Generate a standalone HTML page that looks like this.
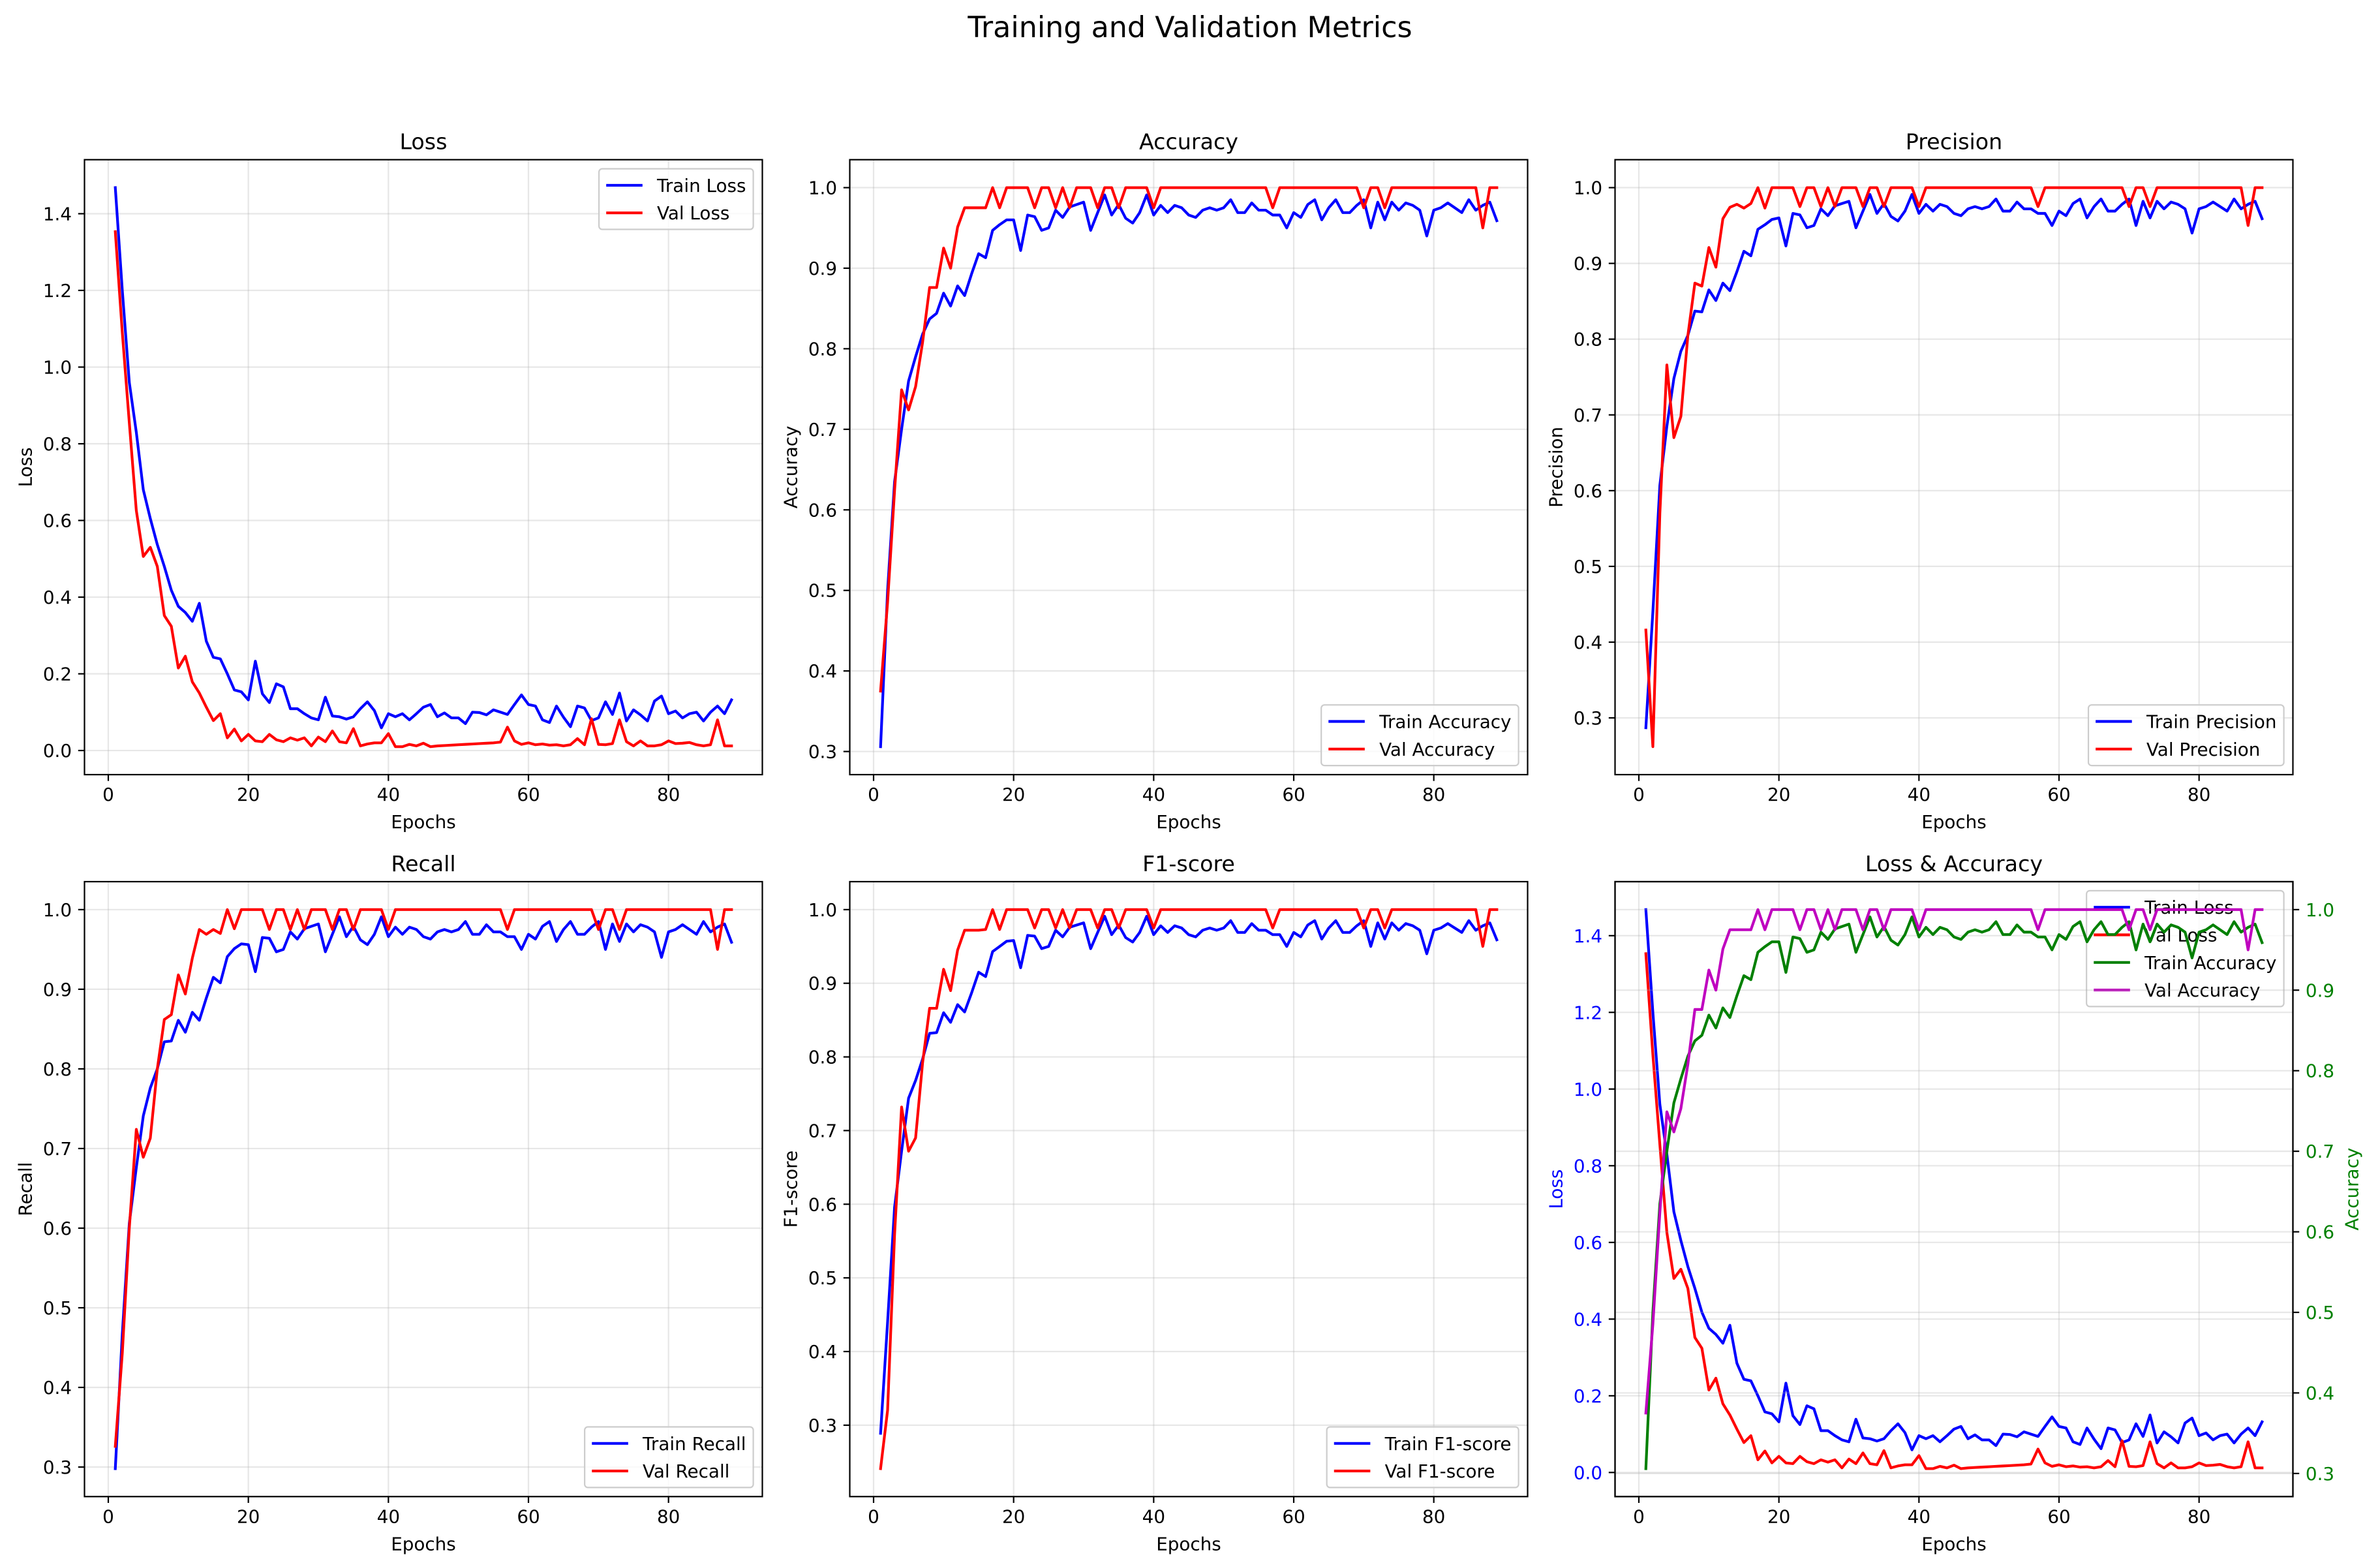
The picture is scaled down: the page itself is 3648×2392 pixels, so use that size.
<!DOCTYPE html>
<html><head><meta charset="utf-8"><style>
html,body{margin:0;padding:0;background:#fff;}
svg{display:block;font-family:"DejaVu Sans","Liberation Sans",sans-serif;}
</style></head><body>
<svg id="fig" xmlns="http://www.w3.org/2000/svg" width="3648" height="2392" viewBox="0 0 3648 2392">
<rect x="0" y="0" width="3648" height="2392" fill="#fff"/>
<text x="1824" y="57" font-size="44.4" text-anchor="middle">Training and Validation Metrics</text>
</svg>
<script>
const epochs = Array.from({length: 89}, (_, i) => i + 1);
const xTicks = [0, 20, 40, 60, 80];
const lossTicks = [0.0, 0.2, 0.4, 0.6, 0.8, 1.0, 1.2, 1.4];
const lossTickLabels = ["0.0","0.2","0.4","0.6","0.8","1.0","1.2","1.4"];
const metricTicks = [0.3, 0.4, 0.5, 0.6, 0.7, 0.8, 0.9, 1.0];
const metricTickLabels = ["0.3","0.4","0.5","0.6","0.7","0.8","0.9","1.0"];

const trainLoss = [1.468,1.20,.96,.83,.68,.605,.537,.48,.418,.376,.36,.337,.384,.285,.243,.239,.20,.158,.153,.132,.233,.148,.125,.174,.166,.109,.109,.096,.085,.08,.139,.09,.088,.082,.088,.109,.127,.104,.059,.096,.088,.096,.08,.096,.113,.12,.088,.098,.085,.085,.07,.10,.099,.093,.106,.10,.094,.12,.145,.12,.116,.08,.073,.116,.087,.062,.116,.111,.078,.085,.127,.094,.15,.077,.106,.093,.077,.129,.142,.096,.103,.085,.096,.10,.077,.10,.116,.096,.132];
const valLoss = [1.353,1.09,.855,.626,.506,.53,.48,.352,.324,.215,.246,.179,.15,.113,.078,.096,.033,.056,.025,.042,.025,.023,.042,.028,.023,.033,.027,.033,.012,.035,.023,.051,.023,.02,.057,.012,.017,.02,.02,.044,.01,.01,.016,.012,.019,.01,.012,.013,.014,.015,.016,.017,.018,.019,.02,.022,.061,.025,.016,.02,.015,.017,.014,.015,.012,.015,.031,.015,.083,.016,.015,.018,.08,.023,.012,.025,.012,.012,.015,.025,.018,.019,.021,.015,.012,.015,.08,.012,.012];

const trainAcc = [.306,.50,.635,.70,.76,.79,.818,.837,.844,.869,.853,.878,.866,.893,.918,.913,.947,.954,.96,.96,.922,.966,.964,.947,.95,.972,.963,.976,.979,.982,.947,.969,.991,.966,.979,.962,.956,.969,.991,.966,.978,.969,.978,.975,.966,.963,.972,.975,.972,.975,.985,.969,.969,.981,.972,.972,.966,.966,.95,.969,.963,.979,.985,.96,.975,.985,.969,.969,.978,.985,.95,.982,.96,.982,.972,.981,.978,.972,.94,.972,.975,.981,.975,.969,.985,.972,.978,.982,.959];
const valAcc = [.375,.485,.624,.749,.724,.753,.808,.876,.876,.925,.90,.951,.975,.975,.975,.975,1,.975,1,1,1,1,.975,1,1,.975,1,.975,1,1,1,.975,1,1,.975,1,1,1,1,.975,1,1,1,1,1,1,1,1,1,1,1,1,1,1,1,1,.975,1,1,1,1,1,1,1,1,1,1,1,1,.975,1,1,.975,1,1,1,1,1,1,1,1,1,1,1,1,1,.95,1,1];

const trainPrec = [.287,.44,.607,.685,.748,.784,.805,.837,.836,.865,.851,.874,.864,.889,.916,.91,.945,.951,.958,.96,.923,.966,.964,.947,.95,.972,.963,.976,.979,.982,.947,.969,.991,.966,.979,.962,.956,.969,.991,.966,.978,.969,.978,.975,.966,.963,.972,.975,.972,.975,.985,.969,.969,.981,.972,.972,.966,.966,.95,.969,.963,.979,.985,.96,.975,.985,.969,.969,.978,.985,.95,.982,.96,.982,.972,.981,.978,.972,.94,.972,.975,.981,.975,.969,.985,.972,.978,.982,.959];
const valPrec = [.416,.262,.57,.766,.67,.698,.805,.874,.87,.921,.895,.959,.974,.978,.973,.979,1,.973,1,1,1,1,.975,1,1,.975,1,.975,1,1,1,.975,1,1,.975,1,1,1,1,.975,1,1,1,1,1,1,1,1,1,1,1,1,1,1,1,1,.975,1,1,1,1,1,1,1,1,1,1,1,1,.975,1,1,.975,1,1,1,1,1,1,1,1,1,1,1,1,1,.95,1,1];

const trainRec = [.298,.467,.606,.676,.741,.776,.80,.834,.835,.861,.846,.871,.861,.889,.915,.908,.941,.951,.957,.956,.922,.965,.964,.947,.95,.972,.963,.976,.979,.982,.947,.969,.991,.966,.979,.962,.956,.969,.991,.966,.978,.969,.978,.975,.966,.963,.972,.975,.972,.975,.985,.969,.969,.981,.972,.972,.966,.966,.95,.969,.963,.979,.985,.96,.975,.985,.969,.969,.978,.985,.95,.982,.96,.982,.972,.981,.978,.972,.94,.972,.975,.981,.975,.969,.985,.972,.978,.982,.959];
const valRec = [.326,.443,.60,.724,.689,.713,.80,.862,.868,.918,.894,.939,.975,.969,.975,.97,1,.976,1,1,1,1,.975,1,1,.975,1,.975,1,1,1,.975,1,1,.975,1,1,1,1,.975,1,1,1,1,1,1,1,1,1,1,1,1,1,1,1,1,.975,1,1,1,1,1,1,1,1,1,1,1,1,.975,1,1,.975,1,1,1,1,1,1,1,1,1,1,1,1,1,.95,1,1];

const trainF1 = [.289,.44,.596,.672,.744,.768,.797,.832,.833,.86,.847,.871,.861,.887,.915,.909,.943,.95,.957,.958,.921,.965,.964,.947,.95,.972,.963,.976,.979,.982,.947,.969,.991,.966,.979,.962,.956,.969,.991,.966,.978,.969,.978,.975,.966,.963,.972,.975,.972,.975,.985,.969,.969,.981,.972,.972,.966,.966,.95,.969,.963,.979,.985,.96,.975,.985,.969,.969,.978,.985,.95,.982,.96,.982,.972,.981,.978,.972,.94,.972,.975,.981,.975,.969,.985,.972,.978,.982,.959];
const valF1 = [.241,.32,.559,.732,.672,.69,.792,.866,.866,.919,.89,.945,.972,.972,.972,.973,1,.973,1,1,1,1,.975,1,1,.975,1,.975,1,1,1,.975,1,1,.975,1,1,1,1,.975,1,1,1,1,1,1,1,1,1,1,1,1,1,1,1,1,.975,1,1,1,1,1,1,1,1,1,1,1,1,.975,1,1,.975,1,1,1,1,1,1,1,1,1,1,1,1,1,.95,1,1];

const NS = "http://www.w3.org/2000/svg";
const svg = document.getElementById("fig");
const W = 1039, H = 942.3, FS = 27.8;
const colL = [129.5, 1302.5, 2475.5];
const rowT = [244.7, 1351];
const TICK = 9.7, PAD = 9.7, LW = 4.17, SPINE = 2.2;

function mk(tag, attrs, parent) {
  const e = document.createElementNS(NS, tag);
  for (const k in attrs) e.setAttribute(k, attrs[k]);
  (parent || svg).appendChild(e);
  return e;
}
function xScale(L) {
  const lo = Math.min(...epochs), hi = Math.max(...epochs);
  const m = (hi - lo) * 0.05, a = lo - m, b = hi + m;
  return v => L + (v - a) / (b - a) * W;
}
function yScale(T, seriesList) {
  let lo = Infinity, hi = -Infinity;
  seriesList.forEach(s => s.forEach(v => { lo = Math.min(lo, v); hi = Math.max(hi, v); }));
  const m = (hi - lo) * 0.05, a = lo - m, b = hi + m;
  return v => T + H - (v - a) / (b - a) * H;
}
function gridX(g, xs, T) {
  xTicks.forEach(t => {
    const l = mk("line", {x1: xs(t), x2: xs(t), y1: T, y2: T + H, stroke: "#b0b0b0", "stroke-opacity": 0.3, "stroke-width": SPINE}, g);
    
    
  });
}
function gridY(g, ys, L, ticks) {
  ticks.forEach(t => {
    const l = mk("line", {x1: L, x2: L + W, y1: ys(t), y2: ys(t), stroke: "#b0b0b0", "stroke-opacity": 0.3, "stroke-width": SPINE}, g);
    
    
  });
}
function series(g, xs, ys, vals, color, name) {
  const d = vals.map((v, i) => (i ? "L" : "M") + xs(epochs[i]).toFixed(2) + "," + ys(v).toFixed(2)).join("");
  const p = mk("path", {d: d, fill: "none", stroke: color, "stroke-width": LW, "stroke-linejoin": "round", "stroke-linecap": "square"}, g);
  
  
}
function xAxis(g, xs, L, T) {
  xTicks.forEach(t => {
    mk("line", {x1: xs(t), x2: xs(t), y1: T + H, y2: T + H + TICK, stroke: "#000", "stroke-width": SPINE}, g);
    const tx = mk("text", {x: xs(t), y: T + H + 40, "font-size": FS, "text-anchor": "middle"}, g);
    tx.textContent = t;
    
    
  });
  const lab = mk("text", {x: L + W / 2, y: T + H + 82, "font-size": FS, "text-anchor": "middle"}, g);
  lab.textContent = "Epochs";
  
  
}
let curT = 0;
function rowCenter() { return curT + H / 2; }
function yAxisLeft(g, ys, L, ticks, labels, title, color) {
  ticks.forEach((t, i) => {
    mk("line", {x1: L - TICK, x2: L, y1: ys(t), y2: ys(t), stroke: "#000", "stroke-width": SPINE}, g);
    const tx = mk("text", {x: L - TICK - PAD, y: ys(t) + 10, "font-size": FS, "text-anchor": "end", fill: color}, g);
    tx.textContent = labels[i];
    
    
  });
  const lab = mk("text", {x: 0, y: 0, "font-size": FS, "text-anchor": "middle", fill: color, transform: `translate(${L - 81},${rowCenter()}) rotate(-90)`}, g);
  lab.textContent = title;
  
  
}
function yAxisRight(g, ys, R, ticks, labels, title, color) {
  ticks.forEach((t, i) => {
    mk("line", {x1: R, x2: R + TICK, y1: ys(t), y2: ys(t), stroke: "#000", "stroke-width": SPINE}, g);
    const tx = mk("text", {x: R + TICK + PAD, y: ys(t) + 10, "font-size": FS, "text-anchor": "start", fill: color}, g);
    tx.textContent = labels[i];
    
    
  });
  const lab = mk("text", {x: 0, y: 0, "font-size": FS, "text-anchor": "middle", fill: color, transform: `translate(${R + 100},${rowCenter()}) rotate(-90)`}, g);
  lab.textContent = title;
  
  
}
function frame(g, L, T, title) {
  const r = mk("rect", {x: L, y: T, width: W, height: H, fill: "none", stroke: "#000", "stroke-width": SPINE}, g);
  
  
  if (title) {
    const t = mk("text", {x: L + W / 2, y: T - 16, "font-size": 33.3, "text-anchor": "middle"}, g);
    t.textContent = title;
    
    
  }
}
function legend(g, L, T, entries, where) {
  const lg = mk("g", {}, g);
  
  
  const rowH = 28.4, sp = 13.9, bp = 11.1;
  const hgt = 2 * bp + entries.length * rowH + (entries.length - 1) * sp;
  const box = mk("rect", {rx: 5, ry: 5, fill: "#fff", "fill-opacity": 0.8, stroke: "#cccccc", "stroke-width": SPINE}, lg);
  const texts = [];
  entries.forEach((e, i) => {
    const h = mk("line", {stroke: e[1], "stroke-width": LW}, lg);
    
    
    const t = mk("text", {"font-size": FS}, lg);
    t.textContent = e[0];
    
    
    texts.push([h, t]);
  });
  let maxw = 0;
  texts.forEach(p => { maxw = Math.max(maxw, p[1].getComputedTextLength()); });
  const wid = bp + 55.6 + 22.2 + maxw + bp;
  const bx = L + W - 13.9 - wid;
  const by = where === "upper" ? T + 13.9 : T + H - 13.9 - hgt;
  box.setAttribute("x", bx); box.setAttribute("y", by);
  box.setAttribute("width", wid); box.setAttribute("height", hgt);
  texts.forEach((p, i) => {
    const cy = by + bp + i * (rowH + sp) + rowH / 2;
    p[0].setAttribute("x1", bx + bp); p[0].setAttribute("x2", bx + bp + 55.6);
    p[0].setAttribute("y1", cy); p[0].setAttribute("y2", cy);
    p[1].setAttribute("x", bx + bp + 55.6 + 22.2); p[1].setAttribute("y", cy + 10);
  });
}
function simplePanel(name, L, T, title, tr, va, trName, vaName, ticks, labels, ylab, where) {
  curT = T;
  const g = mk("g", {});
  
  
  const xs = xScale(L), ys = yScale(T, [tr, va]);
  gridX(g, xs, T); gridY(g, ys, L, ticks);
  series(g, xs, ys, tr, "#0000ff", "train-line");
  series(g, xs, ys, va, "#ff0000", "val-line");
  frame(g, L, T, title);
  xAxis(g, xs, L, T);
  yAxisLeft(g, ys, L, ticks, labels, ylab, "#000");
  legend(g, L, T, [[trName, "#0000ff"], [vaName, "#ff0000"]], where);
}
simplePanel("loss-panel", colL[0], rowT[0], "Loss", trainLoss, valLoss, "Train Loss", "Val Loss", lossTicks, lossTickLabels, "Loss", "upper");
simplePanel("accuracy-panel", colL[1], rowT[0], "Accuracy", trainAcc, valAcc, "Train Accuracy", "Val Accuracy", metricTicks, metricTickLabels, "Accuracy", "lower");
simplePanel("precision-panel", colL[2], rowT[0], "Precision", trainPrec, valPrec, "Train Precision", "Val Precision", metricTicks, metricTickLabels, "Precision", "lower");
simplePanel("recall-panel", colL[0], rowT[1], "Recall", trainRec, valRec, "Train Recall", "Val Recall", metricTicks, metricTickLabels, "Recall", "lower");
simplePanel("f1-panel", colL[1], rowT[1], "F1-score", trainF1, valF1, "Train F1-score", "Val F1-score", metricTicks, metricTickLabels, "F1-score", "lower");

(function () {
  const L = colL[2], T = rowT[1];
  curT = T;
  const g = mk("g", {});
  
  
  const xs = xScale(L), ys1 = yScale(T, [trainLoss, valLoss]), ys2 = yScale(T, [trainAcc, valAcc]);
  gridX(g, xs, T); gridY(g, ys1, L, lossTicks);
  series(g, xs, ys1, trainLoss, "#0000ff", "train-loss-line");
  series(g, xs, ys1, valLoss, "#ff0000", "val-loss-line");
  frame(g, L, T, "Loss & Accuracy");
  xAxis(g, xs, L, T);
  yAxisLeft(g, ys1, L, lossTicks, lossTickLabels, "Loss", "#0000ff");
  legend(g, L, T, [["Train Loss", "#0000ff"], ["Val Loss", "#ff0000"], ["Train Accuracy", "#008000"], ["Val Accuracy", "#bf00bf"]], "upper");
  const g2 = mk("g", {}, g);
  
  
  gridY(g2, ys2, L, metricTicks);
  series(g2, xs, ys2, trainAcc, "#008000", "train-accuracy-line");
  series(g2, xs, ys2, valAcc, "#bf00bf", "val-accuracy-line");
  frame(g2, L, T, null);
  yAxisRight(g2, ys2, L + W, metricTicks, metricTickLabels, "Accuracy", "#008000");
})();
</script>
</body></html>
